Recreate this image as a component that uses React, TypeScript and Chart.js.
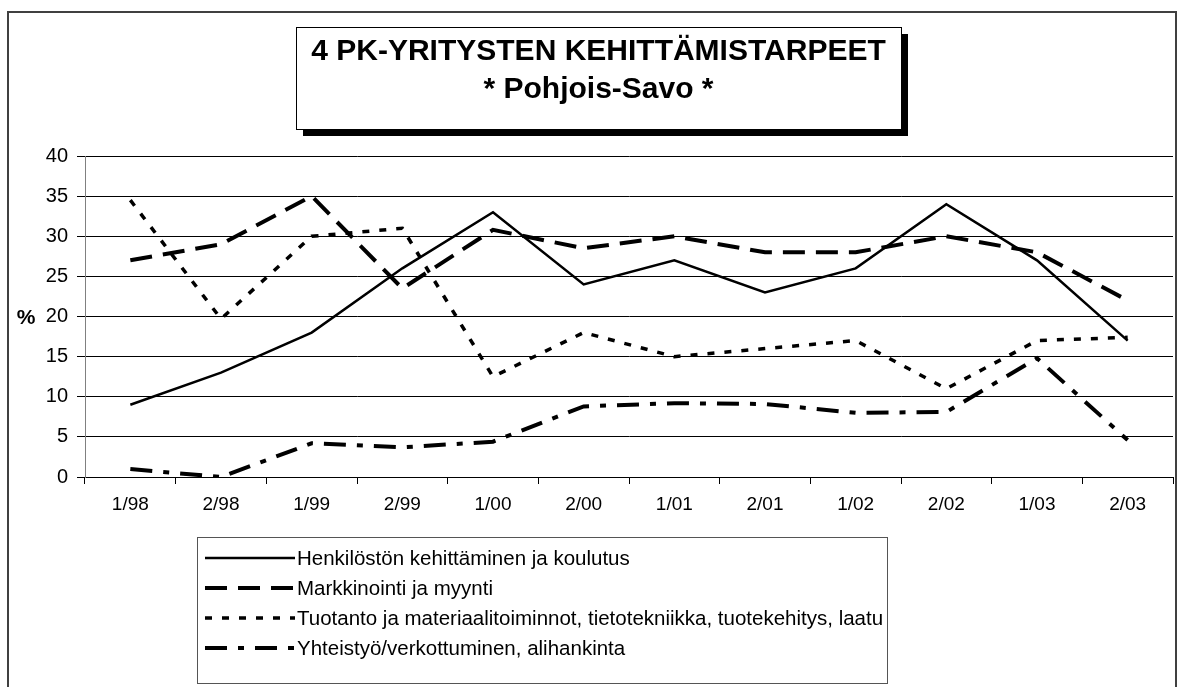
import React, { useEffect, useRef } from "react";
import { Chart, registerables } from "chart.js";

Chart.register(...registerables);

const categories = ["1/98", "2/98", "1/99", "2/99", "1/00", "2/00", "1/01", "2/01", "1/02", "2/02", "1/03", "2/03"];
const henkilosto = [9, 13, 18, 26, 33, 24, 27, 23, 26, 34, 27, 17];
const markkinointi = [27, 29, 35, 23.5, 30.8, 28.5, 30, 28, 28, 30, 28, 22];
const tuotanto = [34.5, 19.7, 30, 31, 12.5, 18, 15, 16, 17, 11, 17, 17.4];
const yhteistyo = [1, 0, 4.2, 3.7, 4.4, 8.8, 9.2, 9.1, 8, 8.1, 14.8, 4.6];
const seriesLabels = [
  "Henkilöstön kehittäminen ja koulutus",
  "Markkinointi ja myynti",
  "Tuotanto ja materiaalitoiminnot, tietotekniikka, tuotekehitys, laatu",
  "Yhteistyö/verkottuminen, alihankinta",
];
const titleLines = ["4 PK-YRITYSTEN KEHITTÄMISTARPEET", "* Pohjois-Savo *"];
const yAxisTitle = "%";
const yMin = 0;
const yMax = 40;
const yStep = 5;

const FONT = "'Liberation Sans', Arial, sans-serif";

const dashes = [[], [22, 11], [7, 10], [22, 11, 6, 11]];
const widths = [2.5, 4, 3.5, 4];
const seriesValues = [henkilosto, markkinointi, tuotanto, yhteistyo];

const decorPlugin = {
  id: "decor",
  beforeDraw(chart: any) {
    const ctx = chart.ctx;
    ctx.save();
    ctx.fillStyle = "#fff";
    ctx.fillRect(0, 0, chart.width, chart.height);
    ctx.strokeStyle = "#404040";
    ctx.lineWidth = 2;
    ctx.strokeRect(8, 12, 1168, 700);
    ctx.restore();
  },
  afterDraw(chart: any) {
    const ctx = chart.ctx;
    ctx.save();
    // title box with shadow
    ctx.fillStyle = "#000";
    ctx.fillRect(303, 34, 605, 102);
    ctx.fillStyle = "#fff";
    ctx.fillRect(296, 27, 605, 102);
    ctx.strokeStyle = "#000";
    ctx.lineWidth = 1;
    ctx.strokeRect(296.5, 27.5, 605, 102);
    ctx.fillStyle = "#000";
    ctx.textAlign = "center";
    ctx.textBaseline = "middle";
    ctx.font = `bold 30px ${FONT}`;
    ctx.fillText(titleLines[0], 598.5, 52);
    ctx.fillText(titleLines[1], 598.5, 90);

    // y axis title
    ctx.font = `bold 21px ${FONT}`;
    ctx.textAlign = "center";
    ctx.fillText(yAxisTitle, 26, 318);

    // legend box
    ctx.strokeStyle = "#555";
    ctx.lineWidth = 1;
    ctx.strokeRect(197.5, 537.5, 690, 146);
    const rows = [558, 588, 618, 648];
    chart.data.datasets.forEach((ds: any, i: number) => {
      const y = rows[i];
      ctx.beginPath();
      ctx.setLineDash(ds.borderDash || []);
      ctx.lineWidth = ds.borderWidth;
      ctx.strokeStyle = "#000";
      ctx.moveTo(205, y);
      ctx.lineTo(295, y);
      ctx.stroke();
      ctx.setLineDash([]);
      ctx.font = `20.5px ${FONT}`;
      ctx.textAlign = "left";
      ctx.textBaseline = "middle";
      ctx.fillStyle = "#000";
      ctx.fillText(ds.label, 297, y + 1);
    });
    ctx.restore();
  },
};

export default function App() {
  const canvasRef = useRef<HTMLCanvasElement | null>(null);

  useEffect(() => {
    const canvas = canvasRef.current;
    if (!canvas) return;
    const chart = new Chart(canvas, {
      type: "line",
      data: {
        labels: categories,
        datasets: seriesValues.map((vals, i) => ({
          label: seriesLabels[i],
          data: vals,
          borderColor: "#000",
          backgroundColor: "#000",
          borderWidth: widths[i],
          borderDash: dashes[i],
          borderCapStyle: "butt",
          borderJoinStyle: "miter",
          pointRadius: 0,
          pointHoverRadius: 0,
          tension: 0,
          fill: false,
        })),
      },
      options: {
        responsive: false,
        animation: false,
        devicePixelRatio: 1,
        layout: { padding: { top: 156, right: 5, bottom: 160, left: 0 } },
        plugins: {
          legend: { display: false },
          title: { display: false },
          tooltip: { enabled: false },
        },
        scales: {
          x: {
            offset: true,
            grid: {
              offset: true,
              drawOnChartArea: false,
              drawTicks: true,
              tickLength: 7,
              color: "#000",
              lineWidth: 1,
            },
            border: { display: true, color: "#000", width: 1 },
            ticks: {
              color: "#000",
              font: { family: FONT, size: 19 },
              maxRotation: 0,
              autoSkip: false,
              padding: 9,
            },
            afterFit: (scale: any) => {
              scale.height = 50;
            },
          },
          y: {
            min: yMin,
            max: yMax,
            grid: {
              color: "#000",
              lineWidth: 1,
              tickLength: 8,
              drawTicks: true,
            },
            border: { display: true, color: "#808080", width: 1 },
            ticks: {
              stepSize: yStep,
              color: "#000",
              font: { family: FONT, size: 20 },
              padding: 9,
            },
            afterFit: (scale: any) => {
              scale.width = 85;
            },
          },
        },
      },
      plugins: [decorPlugin],
    });
    return () => chart.destroy();
  }, []);

  return (
    <div style={{ position: "fixed", left: 0, top: 0, width: 1178, height: 687, background: "#fff" }}>
      <canvas ref={canvasRef} width={1178} height={687} style={{ display: "block" }} />
    </div>
  );
}
